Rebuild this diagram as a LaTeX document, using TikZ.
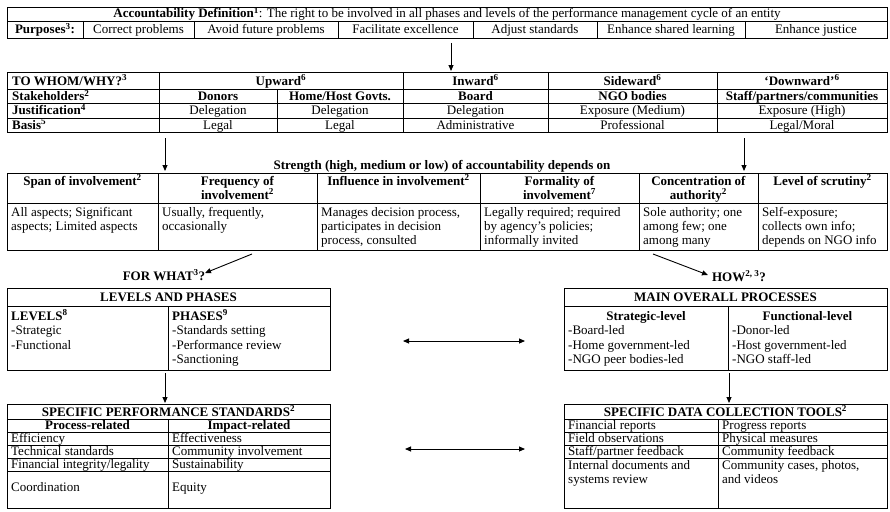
\documentclass[tikz,border=0pt]{standalone}
\usepackage{fontspec}
\setmainfont{Liberation Serif}
\usetikzlibrary{arrows.meta}
\newcommand\fs{\fontsize{13}{14.5}\selectfont}
\newcommand\sps[1]{\textsuperscript{#1}}
\begin{document}
\begin{tikzpicture}[x=1pt,y=-1pt,
  frame/.style={line width=0.9pt},
  T/.style={inner sep=0pt, anchor=base, font=\fs},
  TL/.style={inner sep=0pt, anchor=base west, font=\fs},
  arr/.style={line width=0.9pt, -{Triangle[length=6pt,width=5pt]}},
  darr/.style={line width=0.9pt, {Triangle[length=6pt,width=5pt]}-{Triangle[length=6pt,width=5pt]}}]
\useasboundingbox (0,0) rectangle (890,511);

% ---------- top table ----------
\draw[frame] (7,7) rectangle (887,38);
\draw[frame] (7,21) -- (887,21);
\foreach \x in {83,194,338,473,597,745} \draw[frame] (\x,21) -- (\x,38);
\node[T] (def) at (447,18) {\textbf{Accountability Definition\sps{1}}: The right to be involved in all phases and levels of the performance management cycle of an entity};
\node[T] (pur) at (45,33.5) {\textbf{Purposes\sps{3}:}};
\node[T] (p1) at (138.5,33.5) {Correct problems};
\node[T] (p2) at (266,33.5) {Avoid future problems};
\node[T] (p3) at (405.5,33.5) {Facilitate excellence};
\node[T] (p4) at (535,33.5) {Adjust standards};
\node[T] (p5) at (671,33.5) {Enhance shared learning};
\node[T] (p6) at (816,33.5) {Enhance justice};

\coordinate (a1s) at (451,43); \coordinate (a1e) at (451,71);
\draw[arr] (a1s) -- (a1e);

% ---------- to whom table ----------
\draw[frame] (7,72) rectangle (887,132);
\foreach \y in {89,103.5,118} \draw[frame] (7,\y) -- (887,\y);
\foreach \x in {159,403,548,717} \draw[frame] (\x,72) -- (\x,132);
\draw[frame] (277,89) -- (277,132);
\node[TL] (w0) at (12,85) {\textbf{TO WHOM/WHY?\sps{3}}};
\node[T] (w1) at (281,85) {\textbf{Upward\sps{6}}};
\node[T] (w2) at (475.5,85) {\textbf{Inward\sps{6}}};
\node[T] (w3) at (632.5,85) {\textbf{Sideward\sps{6}}};
\node[T] (w4) at (802,85) {\textbf{‘Downward’\sps{6}}};
\node[TL] (s0) at (12,100.5) {\textbf{Stakeholders\sps{2}}};
\node[T] (s1) at (218,100.5) {\textbf{Donors}};
\node[T] (s2) at (340,100.5) {\textbf{Home/Host Govts.}};
\node[T] (s3) at (475.5,100.5) {\textbf{Board}};
\node[T] (s4) at (632.5,100.5) {\textbf{NGO bodies}};
\node[T] (s5) at (802,100.5) {\textbf{Staff/partners/communities}};
\node[TL] (j0) at (12,114.5) {\textbf{Justification\sps{4}}};
\node[T] (j1) at (218,114.5) {Delegation};
\node[T] (j2) at (340,114.5) {Delegation};
\node[T] (j3) at (475.5,114.5) {Delegation};
\node[T] (j4) at (632.5,114.5) {Exposure (Medium)};
\node[T] (j5) at (802,114.5) {Exposure (High)};
\node[TL] (b0) at (12,129) {\textbf{Basis\sps{5}}};
\node[T] (b1) at (218,129) {Legal};
\node[T] (b2) at (340,129) {Legal};
\node[T] (b3) at (475.5,129) {Administrative};
\node[T] (b4) at (632.5,129) {Professional};
\node[T] (b5) at (802,129) {Legal/Moral};

\coordinate (a2s) at (165,138); \coordinate (a2e) at (165,171);
\coordinate (a3s) at (744,138); \coordinate (a3e) at (744,171);
\draw[arr] (a2s) -- (a2e);
\draw[arr] (a3s) -- (a3e);

% ---------- strength table ----------
\node[T] (str) at (442,169.5) {\textbf{Strength (high, medium or low) of accountability depends on}};
\draw[frame] (7,173) rectangle (887,250);
\draw[frame] (7,203) -- (887,203);
\foreach \x in {158,317,480,639,758} \draw[frame] (\x,173) -- (\x,250);
\node[T] (h1) at (82.5,185) {\textbf{Span of involvement\sps{2}}};
\node[T] (h2a) at (237.5,185) {\textbf{Frequency of}};
\node[T] (h2b) at (237.5,199) {\textbf{involvement\sps{2}}};
\node[T] (h3) at (398.5,185) {\textbf{Influence in involvement\sps{2}}};
\node[T] (h4a) at (559.5,185) {\textbf{Formality of}};
\node[T] (h4b) at (559.5,199) {\textbf{involvement\sps{7}}};
\node[T] (h5a) at (698.5,185) {\textbf{Concentration of}};
\node[T] (h5b) at (698.5,199) {\textbf{authority\sps{2}}};
\node[T] (h6) at (822.5,185) {\textbf{Level of scrutiny\sps{2}}};
\node[TL] (c1a) at (11,216) {All aspects; Significant};
\node[TL] (c1b) at (11,230) {aspects; Limited aspects};
\node[TL] (c2a) at (162,216) {Usually, frequently,};
\node[TL] (c2b) at (162,230) {occasionally};
\node[TL] (c3a) at (321,216) {Manages decision process,};
\node[TL] (c3b) at (321,230) {participates in decision};
\node[TL] (c3c) at (321,244) {process, consulted};
\node[TL] (c4a) at (484,216) {Legally required; required};
\node[TL] (c4b) at (484,230) {by agency’s policies;};
\node[TL] (c4c) at (484,244) {informally invited};
\node[TL] (c5a) at (643,216) {Sole authority; one};
\node[TL] (c5b) at (643,230) {among few; one};
\node[TL] (c5c) at (643,244) {among many};
\node[TL] (c6a) at (762,216) {Self-exposure;};
\node[TL] (c6b) at (762,230) {collects own info;};
\node[TL] (c6c) at (762,244) {depends on NGO info};

\coordinate (a4s) at (252,254); \coordinate (a4e) at (205,273);
\coordinate (a5s) at (653,254); \coordinate (a5e) at (708,275);
\draw[arr] (a4s) -- (a4e);
\draw[arr] (a5s) -- (a5e);
\node[T] (forwhat) at (164,280) {\textbf{FOR WHAT\sps{3}?}};
\node[T] (how) at (739,281) {\textbf{HOW\sps{2, 3}?}};

% ---------- levels and phases ----------
\draw[frame] (7,288) rectangle (330,370);
\draw[frame] (7,306) -- (330,306);
\draw[frame] (168,306) -- (168,370);
\node[T] (lp) at (168.5,301.5) {\textbf{LEVELS AND PHASES}};
\node[TL] (lv0) at (11,320) {\textbf{LEVELS\sps{8}}};
\node[TL] (lv1) at (11,334.5) {-Strategic};
\node[TL] (lv2) at (11,349) {-Functional};
\node[TL] (ph0) at (172,320) {\textbf{PHASES\sps{9}}};
\node[TL] (ph1) at (172,334.5) {-Standards setting};
\node[TL] (ph2) at (172,349) {-Performance review};
\node[TL] (ph3) at (172,363.5) {-Sanctioning};

% ---------- main overall processes ----------
\draw[frame] (564,288) rectangle (887,370);
\draw[frame] (564,306) -- (887,306);
\draw[frame] (728,306) -- (728,370);
\node[T] (mop) at (725.5,301.5) {\textbf{MAIN OVERALL PROCESSES}};
\node[T] (sl0) at (646,320) {\textbf{Strategic-level}};
\node[TL] (sl1) at (568,334.5) {-Board-led};
\node[TL] (sl2) at (568,349) {-Home government-led};
\node[TL] (sl3) at (568,363.5) {-NGO peer bodies-led};
\node[T] (fl0) at (807.5,320) {\textbf{Functional-level}};
\node[TL] (fl1) at (732,334.5) {-Donor-led};
\node[TL] (fl2) at (732,349) {-Host government-led};
\node[TL] (fl3) at (732,363.5) {-NGO staff-led};

\coordinate (d1a) at (403,341); \coordinate (d1b) at (525,341);
\draw[darr] (d1a) -- (d1b);
\coordinate (a6s) at (165,373); \coordinate (a6e) at (165,403);
\coordinate (a7s) at (729,373); \coordinate (a7e) at (729,403);
\draw[arr] (a6s) -- (a6e);
\draw[arr] (a7s) -- (a7e);

% ---------- specific performance standards ----------
\draw[frame] (7,404) rectangle (330,508);
\foreach \y in {419,432,445,458,471.5} \draw[frame] (7,\y) -- (330,\y);
\draw[frame] (168,419) -- (168,508);
\node[T] (sps) at (168.5,416) {\textbf{SPECIFIC PERFORMANCE STANDARDS\sps{2}}};
\node[T] (pr) at (87.5,429.5) {\textbf{Process-related}};
\node[T] (ir) at (249,429.5) {\textbf{Impact-related}};
\node[TL] (l1) at (11,442.5) {Efficiency};
\node[TL] (l2) at (11,455.5) {Technical standards};
\node[TL] (l3) at (11,468.5) {Financial integrity/legality};
\node[TL] (l4) at (11,491) {Coordination};
\node[TL] (r1) at (172,442.5) {Effectiveness};
\node[TL] (r2) at (172,455.5) {Community involvement};
\node[TL] (r3) at (172,468.5) {Sustainability};
\node[TL] (r4) at (172,491) {Equity};

\coordinate (d2a) at (405,449); \coordinate (d2b) at (525,449);
\draw[darr] (d2a) -- (d2b);

% ---------- specific data collection tools ----------
\draw[frame] (564,404) rectangle (887,508);
\foreach \y in {419,432,445,458} \draw[frame] (564,\y) -- (887,\y);
\draw[frame] (718,419) -- (718,508);
\node[T] (sdct) at (725.5,416) {\textbf{SPECIFIC DATA COLLECTION TOOLS\sps{2}}};
\node[TL] (dl1) at (568,429.5) {Financial reports};
\node[TL] (dl2) at (568,442.5) {Field observations};
\node[TL] (dl3) at (568,455.5) {Staff/partner feedback};
\node[TL] (dl4) at (568,469.5) {Internal documents and};
\node[TL] (dl5) at (568,483.5) {systems review};
\node[TL] (dr1) at (722,429.5) {Progress reports};
\node[TL] (dr2) at (722,442.5) {Physical measures};
\node[TL] (dr3) at (722,455.5) {Community feedback};
\node[TL] (dr4) at (722,469.5) {Community cases, photos,};
\node[TL] (dr5) at (722,483.5) {and videos};
\end{tikzpicture}
\end{document}
